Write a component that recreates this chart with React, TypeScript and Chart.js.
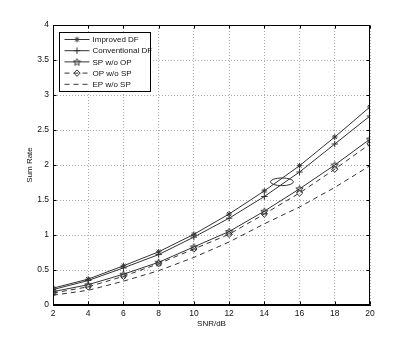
import { useEffect, useRef } from "react";
import { Chart, registerables } from "chart.js";
import { drawPoint } from "chart.js/helpers";

Chart.register(...registerables);

// ---- data ----
const snr = [2, 4, 6, 8, 10, 12, 14, 16, 18, 20];
const improvedDF = [0.24, 0.37, 0.56, 0.76, 1.01, 1.3, 1.63, 1.99, 2.4, 2.83];
const conventionalDF = [0.22, 0.35, 0.53, 0.72, 0.97, 1.24, 1.55, 1.9, 2.3, 2.7];
const spWoOp = [0.19, 0.29, 0.44, 0.61, 0.83, 1.05, 1.34, 1.66, 2.0, 2.37];
const opWoSp = [0.17, 0.26, 0.41, 0.59, 0.8, 1.01, 1.3, 1.6, 1.94, 2.3];
const epWoSp = [0.14, 0.21, 0.34, 0.49, 0.68, 0.9, 1.16, 1.4, 1.68, 1.99];
const seriesNames = ["Improved DF", "Conventional DF", "SP w/o OP", "OP w/o SP", "EP w/o SP"];
const xTickValues = [2, 4, 6, 8, 10, 12, 14, 16, 18, 20];
const yTickValues = [0, 0.5, 1, 1.5, 2, 2.5, 3, 3.5, 4];
const xTitle = "SNR/dB";
const yTitle = "Sum Rate";
// annotation ellipse (data units)
const ellipseCenter = [15, 1.76];
const ellipseRadii = [0.65, 0.055];

const FONT = "'Liberation Sans', Arial, Helvetica, sans-serif";
const INK = "#333";

function makePentagram(): HTMLCanvasElement {
  const size = 9;
  const c = document.createElement("canvas");
  c.width = size;
  c.height = size;
  const g = c.getContext("2d")!;
  const cx = size / 2, cy = size / 2 + 0.4;
  const R = 3.8, r = 1.6;
  g.beginPath();
  for (let i = 0; i < 10; i++) {
    const rad = i % 2 === 0 ? R : r;
    const ang = -Math.PI / 2 + (i * Math.PI) / 5;
    const px = cx + rad * Math.cos(ang);
    const py = cy + rad * Math.sin(ang);
    if (i === 0) g.moveTo(px, py);
    else g.lineTo(px, py);
  }
  g.closePath();
  g.strokeStyle = INK;
  g.lineWidth = 1;
  g.stroke();
  return c;
}

export default function App() {
  const ref = useRef<HTMLCanvasElement | null>(null);

  useEffect(() => {
    if (!ref.current) return;
    const star5 = makePentagram();
    const seriesValues = [improvedDF, conventionalDF, spWoOp, opWoSp, epWoSp];
    const styles: any[] = [
      { pointStyle: "star", pointRadius: 2.8, dash: [] },
      { pointStyle: "cross", pointRadius: 3.2, dash: [] },
      { pointStyle: star5, pointRadius: 3.5, dash: [] },
      { pointStyle: "rectRot", pointRadius: 3.2, dash: [5, 4] },
      { pointStyle: false, pointRadius: 0, dash: [5, 4] },
    ];

    const datasets = seriesValues.map((vals, i) => ({
      label: seriesNames[i],
      data: snr.map((x, j) => ({ x, y: vals[j] })),
      borderColor: INK,
      backgroundColor: "rgba(0,0,0,0)",
      borderWidth: 1,
      borderDash: styles[i].dash,
      pointStyle: styles[i].pointStyle,
      pointRadius: styles[i].pointRadius,
      pointBorderColor: INK,
      pointBackgroundColor: "rgba(0,0,0,0)",
      pointBorderWidth: 1,
      tension: 0,
      fill: false,
    }));

    const overlay = {
      id: "overlay",
      afterDatasetsDraw(chart: any) {
        const { ctx, chartArea: a, scales } = chart;
        const xs = scales.x, ys = scales.y;
        ctx.save();
        ctx.strokeStyle = INK;
        ctx.lineWidth = 1;
        ctx.setLineDash([]);

        // ellipse annotation
        const cx = xs.getPixelForValue(ellipseCenter[0]);
        const cy = ys.getPixelForValue(ellipseCenter[1]);
        const rx = Math.abs(xs.getPixelForValue(ellipseCenter[0] + ellipseRadii[0]) - cx);
        const ry = Math.abs(ys.getPixelForValue(ellipseCenter[1] + ellipseRadii[1]) - cy);
        ctx.beginPath();
        ctx.ellipse(cx, cy, rx, ry, 0, 0, Math.PI * 2);
        ctx.stroke();

        // frame
        ctx.strokeStyle = "#000";
        const L = Math.round(a.left) + 0.5, R = Math.round(a.right) - 0.5;
        const T = Math.round(a.top) + 0.5, B = Math.round(a.bottom) - 0.5;
        ctx.strokeRect(L, T, R - L, B - T);

        // inward tick marks
        const tl = 3;
        ctx.beginPath();
        xTickValues.forEach((v) => {
          const px = Math.round(xs.getPixelForValue(v)) + 0.5;
          ctx.moveTo(px, B);
          ctx.lineTo(px, B - tl);
          ctx.moveTo(px, T);
          ctx.lineTo(px, T + tl);
        });
        yTickValues.forEach((v) => {
          const py = Math.round(ys.getPixelForValue(v)) + 0.5;
          ctx.moveTo(L, py);
          ctx.lineTo(L + tl, py);
          ctx.moveTo(R, py);
          ctx.lineTo(R - tl, py);
        });
        ctx.stroke();

        // legend box
        const bx = Math.round(a.left) + 6.5, by = Math.round(a.top) + 7.5;
        const bw = 91, rowH = 11.2;
        const bh = 59;
        ctx.fillStyle = "#fff";
        ctx.fillRect(bx, by, bw, bh);
        ctx.strokeStyle = "#000";
        ctx.strokeRect(bx, by, bw, bh);
        ctx.font = `8px ${FONT}`;
        ctx.textBaseline = "middle";
        ctx.textAlign = "left";
        seriesNames.forEach((name, i) => {
          const ry0 = by + 7 + i * rowH;
          const x0 = bx + 5, x1 = bx + 30;
          ctx.save();
          ctx.strokeStyle = INK;
          ctx.lineWidth = 1;
          ctx.setLineDash(styles[i].dash);
          ctx.beginPath();
          ctx.moveTo(x0, ry0);
          ctx.lineTo(x1, ry0);
          ctx.stroke();
          ctx.setLineDash([]);
          if (styles[i].pointStyle) {
            const mx = (x0 + x1) / 2;
            ctx.fillStyle = "rgba(0,0,0,0)";
            drawPoint(ctx, {
              pointStyle: styles[i].pointStyle,
              radius: styles[i].pointRadius,
              rotation: 0,
              borderWidth: 1,
            } as any, mx, ry0);
          }
          ctx.restore();
          ctx.fillStyle = "#111";
          ctx.fillText(name, bx + 33, ry0 + 0.5);
        });
        ctx.restore();
      },
    };

    const chart = new Chart(ref.current, {
      type: "line",
      data: { datasets },
      options: {
        animation: false,
        responsive: false,
        devicePixelRatio: 1,
        layout: { padding: { top: 25, right: 38, left: 0, bottom: 0 } },
        plugins: {
          legend: { display: false },
          tooltip: { enabled: false },
        },
        scales: {
          x: {
            type: "linear",
            min: 2,
            max: 20,
            afterBuildTicks: (s: any) => {
              s.ticks = xTickValues.map((v) => ({ value: v }));
            },
            afterFit: (s: any) => {
              s.height = 39;
            },
            ticks: {
              autoSkip: false,
              maxRotation: 0,
              padding: 4,
              color: "#111",
              font: { family: FONT, size: 8.5 },
              callback: (v: any) => String(v),
            },
            grid: { color: "#aaa", drawTicks: false, lineWidth: 1 },
            border: { display: true, color: "#000", dash: [1, 2] },
            title: {
              display: true,
              text: xTitle,
              color: "#111",
              font: { family: FONT, size: 8 },
              padding: { top: 0, bottom: 15 },
            },
          },
          y: {
            type: "linear",
            min: 0,
            max: 4,
            afterBuildTicks: (s: any) => {
              s.ticks = yTickValues.map((v) => ({ value: v }));
            },
            afterFit: (s: any) => {
              s.width = 53;
            },
            ticks: {
              padding: 4,
              color: "#111",
              font: { family: FONT, size: 8.5 },
              callback: (v: any) => String(v),
            },
            grid: { color: "#aaa", drawTicks: false, lineWidth: 1 },
            border: { display: true, color: "#000", dash: [1, 2] },
            title: {
              display: true,
              text: yTitle,
              color: "#111",
              font: { family: FONT, size: 8 },
              padding: { top: 24.5, bottom: 0 },
            },
          },
        },
      },
      plugins: [overlay],
    } as any);

    return () => chart.destroy();
  }, []);

  return (
    <div style={{ position: "fixed", left: 0, top: 0, width: 408, height: 344, background: "#fff" }}>
      <canvas ref={ref} width={408} height={344} style={{ display: "block", width: 408, height: 344 }} />
    </div>
  );
}
